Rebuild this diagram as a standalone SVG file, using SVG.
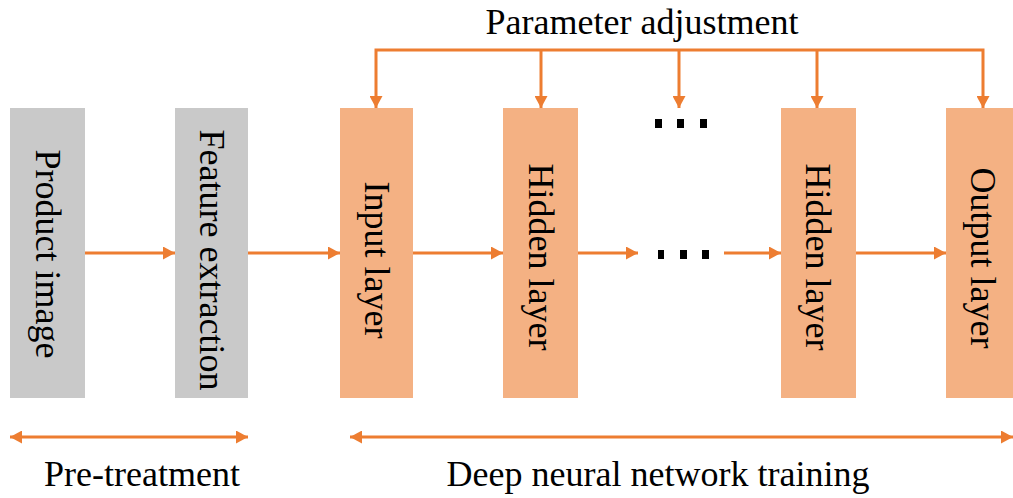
<svg xmlns="http://www.w3.org/2000/svg" width="1013" height="498" viewBox="0 0 1013 498">
<style>
.grey{fill:#C9C9C9}
.orange{fill:#F4B183}
.lbl{font-family:'Liberation Serif','Times New Roman',serif;font-size:36px;fill:#000}
.vt{font-family:'Liberation Serif','Times New Roman',serif;font-size:36px;fill:#000;text-anchor:middle}
.ln{stroke:#ED7D31;stroke-width:3;fill:none}
.dot{fill:#000}
</style>
<defs>
<marker id="ah" markerUnits="userSpaceOnUse" markerWidth="13" markerHeight="13" refX="12" refY="6.5" orient="auto-start-reverse" viewBox="0 0 13 13">
<path d="M0,0 L12,6.5 L0,13 Z" fill="#ED7D31"/>
</marker>
</defs>
<rect width="1013" height="498" fill="#fff"/>
<g id="product-image"><rect class="grey" x="10" y="108" width="75" height="290"/><text class="vt" transform="translate(36,254) rotate(90)">Product image</text></g>
<g id="feature-extraction"><rect class="grey" x="175" y="108" width="73" height="290"/><text class="vt" transform="translate(200,260) rotate(90)">Feature extraction</text></g>
<g id="input-layer"><rect class="orange" x="340" y="108" width="73" height="290"/><text class="vt" transform="translate(365,260) rotate(90)">Input layer</text></g>
<g id="hidden-layer-1"><rect class="orange" x="503" y="108" width="75" height="290"/><text class="vt" transform="translate(529,257) rotate(90)">Hidden layer</text></g>
<g id="hidden-layer-2"><rect class="orange" x="781" y="108" width="75" height="290"/><text class="vt" transform="translate(806,257) rotate(90)">Hidden layer</text></g>
<g id="output-layer"><rect class="orange" x="946" y="108" width="67" height="290"/><text class="vt" transform="translate(971,258) rotate(90)">Output layer</text></g>
<g id="dots-top"><rect class="dot" x="655" y="119" width="7" height="9"/><rect class="dot" x="677" y="119" width="7" height="9"/><rect class="dot" x="700" y="119" width="7" height="9"/></g>
<g id="dots-mid"><rect class="dot" x="658" y="250" width="6" height="9"/><rect class="dot" x="680" y="250" width="7" height="9"/><rect class="dot" x="702" y="250" width="7" height="9"/></g>
<g id="connectors">
<line class="ln" x1="85" y1="253" x2="175" y2="253" marker-end="url(#ah)"/>
<line class="ln" x1="248" y1="253" x2="340" y2="253" marker-end="url(#ah)"/>
<line class="ln" x1="413" y1="253" x2="503" y2="253" marker-end="url(#ah)"/>
<line class="ln" x1="578" y1="253" x2="638" y2="253" marker-end="url(#ah)"/>
<line class="ln" x1="724" y1="253" x2="781" y2="253" marker-end="url(#ah)"/>
<line class="ln" x1="856" y1="253" x2="946" y2="253" marker-end="url(#ah)"/>
<polyline class="ln" points="376,108 376,50 983,50 983,108" marker-start="url(#ah)" marker-end="url(#ah)"/>
<line class="ln" x1="541" y1="50" x2="541" y2="108" marker-end="url(#ah)"/>
<line class="ln" x1="679" y1="50" x2="679" y2="108" marker-end="url(#ah)"/>
<line class="ln" x1="817" y1="50" x2="817" y2="108" marker-end="url(#ah)"/>
<line class="ln" x1="10" y1="437" x2="248" y2="437" marker-start="url(#ah)" marker-end="url(#ah)"/>
<line class="ln" x1="350" y1="437" x2="1013" y2="437" marker-start="url(#ah)" marker-end="url(#ah)"/>
</g>
<text class="lbl" x="642" y="34" text-anchor="middle">Parameter adjustment</text>
<text class="lbl" x="142" y="486" text-anchor="middle">Pre-treatment</text>
<text class="lbl" x="658" y="486" text-anchor="middle">Deep neural network training</text>
</svg>
